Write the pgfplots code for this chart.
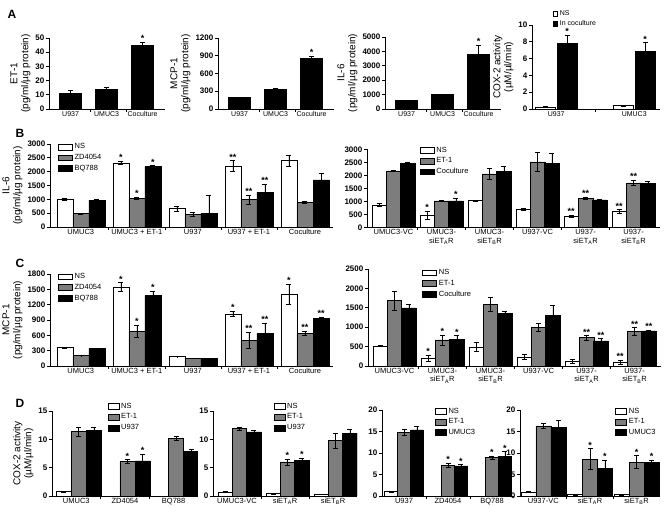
\documentclass[border=0pt]{standalone}
\usepackage{fontspec}
\setmainfont{Liberation Sans}
\usepackage{pgfplots}
\usepackage{pgfplotstable}
\pgfplotsset{compat=1.18}
\definecolor{barg}{RGB}{125,125,125}
\pgfplotsset{
 base/.style={
  scale only axis, anchor=south west, axis lines=left, axis line style={-, line width=0.8pt},
  tick align=outside, major tick length=3pt, tick style={black, line width=0.7pt},
  xmin=0, ymin=0,
  /pgf/number format/assume math mode=true, /pgf/number format/1000 sep={},
  yticklabel style={font=\bfseries\fontsize{8}{9}\selectfont, inner sep=1.5pt},
  xticklabels={},
  extra x tick style={major tick length=0pt, tick label style={font=\fontsize{7.5}{8.5}\selectfont, align=center, inner sep=2pt}},
  ylabel style={align=center, font=\fontsize{10}{11}\selectfont},
  legend style={draw=none, fill=none, font=\fontsize{7.5}{8.5}\selectfont, anchor=north west, inner sep=0pt, row sep=0pt, cells={anchor=west}},
  legend image code/.code={\draw[##1, draw=black, line width=0.5pt] (0pt,-2.8pt) rectangle (14pt,2.8pt);},
 },
 bar/.style={ybar, bar shift=0pt, draw=black, line width=0.5pt,
   /pgfplots/error bars/y dir=both, /pgfplots/error bars/y explicit,
   /pgfplots/error bars/error bar style={black, line width=0.6pt},
   /pgfplots/error bars/error mark options={rotate=90, black, mark size=2.5pt, line width=0.6pt}},
 star/.style={sharp plot, draw=none, mark=none, forget plot, nodes near coords, point meta=explicit symbolic,
   every node near coord/.style={font=\bfseries\fontsize{9}{9}\selectfont, anchor=south, inner sep=0.3pt}},
}
\newcommand\grp[4]{%
  \addplot[fill=#3, bar width=#4, bar] table[x expr=\thisrow{g}+#2, y=y, y error=e]{#1};
  \addplot[star] table[x expr=\thisrow{g}+#2, y expr=\thisrow{y}+\thisrow{e}, meta=s]{#1};
}
% ---------------- data ----------------
\pgfplotstableread{
g y e s
0 11 2 {}
1 14 1 {}
2 45 2 *
}\Aa
\pgfplotstableread{
g y e s
0 190 10 {}
1 330 25 {}
2 850 40 *
}\Ab
\pgfplotstableread{
g y e s
0 580 40 {}
1 1000 40 {}
2 3800 650 *
}\Ac
\pgfplotstableread{
g y e s
0 0.25 0.05 {}
1 0.4 0.05 {}
}\Adns
\pgfplotstableread{
g y e s
0 7.8 1.0 *
1 6.9 1.0 *
}\Adco
% B left
\pgfplotstableread{
g y e s
0 1000 50 {}
1 2320 50 *
2 665 80 {}
3 2200 200 **
4 2400 200 {}
}\BLns
\pgfplotstableread{
g y e s
0 480 20 {}
1 1030 40 *
2 445 70 {}
3 990 160 **
4 880 40 {}
}\BLzd
\pgfplotstableread{
g y e s
0 960 30 {}
1 2180 40 *
2 490 660 {}
3 1260 300 **
4 1700 230 {}
}\BLbq
% B right
\pgfplotstableread{
g y e s
0 870 60 {}
1 470 170 *
2 1030 15 {}
3 700 30 {}
4 440 30 **
5 620 70 **
}\BRns
\pgfplotstableread{
g y e s
0 2180 20 {}
1 1020 30 {}
2 2060 200 {}
3 2520 360 {}
4 1120 40 **
5 1720 110 **
}\BRet
\pgfplotstableread{
g y e s
0 2480 40 {}
1 1020 110 *
2 2150 220 {}
3 2460 400 {}
4 1060 15 {}
5 1700 80 {}
}\BRco
% C left
\pgfplotstableread{
g y e s
0 360 5 {}
1 1550 80 *
2 185 5 {}
3 1020 50 *
4 1400 200 *
}\CLns
\pgfplotstableread{
g y e s
0 205 5 {}
1 680 120 *
2 150 5 {}
3 505 155 **
4 640 45 **
}\CLzd
\pgfplotstableread{
g y e s
0 345 10 {}
1 1375 95 *
2 150 5 {}
3 635 200 **
4 930 20 **
}\CLbq
% C right
\pgfplotstableread{
g y e s
0 515 10 {}
1 200 75 *
2 490 110 {}
3 230 60 {}
4 130 50 {}
5 95 50 **
}\CRns
\pgfplotstableread{
g y e s
0 1685 240 {}
1 670 130 *
2 1590 170 {}
3 1000 95 {}
4 730 55 **
5 885 100 **
}\CRet
\pgfplotstableread{
g y e s
0 1495 90 {}
1 680 100 *
2 1350 50 {}
3 1310 260 {}
4 650 55 **
5 905 25 **
}\CRco
% D
\pgfplotstableread{
g y e s
0 0.75 0.05 {}
1 0 0 {}
2 0 0 {}
}\Dans
\pgfplotstableread{
g y e s
0 11.4 0.8 {}
1 6.1 0.3 *
2 10.2 0.3 {}
}\Daet
\pgfplotstableread{
g y e s
0 11.6 0.6 {}
1 6.2 1.2 *
2 7.9 0.4 {}
}\Dauu
\pgfplotstableread{
g y e s
0 0.7 0.05 {}
1 0.4 0.05 {}
2 0.3 0.05 {}
}\Dbns
\pgfplotstableread{
g y e s
0 11.9 0.3 {}
1 6.0 0.5 *
2 9.8 1.3 {}
}\Dbet
\pgfplotstableread{
g y e s
0 11.3 0.3 {}
1 6.3 0.4 *
2 11.1 0.6 {}
}\Dbuu
\pgfplotstableread{
g y e s
0 1.0 0.1 {}
1 0 0 {}
2 0 0 {}
}\Dcns
\pgfplotstableread{
g y e s
0 14.8 0.8 {}
1 7.2 0.5 *
2 8.9 0.4 *
}\Dcet
\pgfplotstableread{
g y e s
0 15.4 0.7 {}
1 7.0 0.3 *
2 9.2 1.1 *
}\Dcuu
\pgfplotstableread{
g y e s
0 0.9 0.1 {}
1 0.3 0.05 {}
2 0.3 0.05 {}
}\Ddns
\pgfplotstableread{
g y e s
0 16.3 0.5 {}
1 8.6 2.4 *
2 7.9 1.5 *
}\Ddet
\pgfplotstableread{
g y e s
0 16.0 1.5 {}
1 6.5 1.8 *
2 7.8 0.5 *
}\Dduu
\begin{document}
\begin{tikzpicture}
\path[use as bounding box] (0pt,0pt) rectangle (665pt,521pt);
\node[font=\bfseries\fontsize{12}{12}\selectfont] at (12pt,507pt) {A};
\node[font=\bfseries\fontsize{12}{12}\selectfont] at (20pt,388pt) {B};
\node[font=\bfseries\fontsize{12}{12}\selectfont] at (20pt,258pt) {C};
\node[font=\bfseries\fontsize{12}{12}\selectfont] at (20pt,118pt) {D};
% ---------- A ----------
\begin{axis}[base, at={(49pt,412pt)}, width=116pt, height=71pt, xmax=3.22, ymax=50, ytick={0,10,...,50},
  xtick={1.14,2.14}, extra x ticks={0.6,1.6,2.6}, extra x tick labels={U937,UMUC3,Coculture},
  extra x tick style={tick label style={font=\fontsize{7}{8}\selectfont}},
  ylabel={ET-1\\(pg/ml/µg protein)}]
\grp{\Aa}{0.6}{black}{22pt}
\end{axis}
\begin{axis}[base, at={(218pt,412pt)}, width=116pt, height=71pt, xmax=3.22, ymax=1200, ytick={0,300,...,1200},
  xtick={1.14,2.14}, extra x ticks={0.6,1.6,2.6}, extra x tick labels={U937,UMUC3,Coculture},
  extra x tick style={tick label style={font=\fontsize{7}{8}\selectfont}},
  ylabel={MCP-1\\(pg/ml/µg protein)}]
\grp{\Ab}{0.6}{black}{22pt}
\end{axis}
\begin{axis}[base, at={(385pt,412pt)}, width=116pt, height=72pt, xmax=3.22, ymax=5000, ytick={0,1000,...,5000},
  xtick={1.14,2.14}, extra x ticks={0.6,1.6,2.6}, extra x tick labels={U937,UMUC3,Coculture},
  extra x tick style={tick label style={font=\fontsize{7}{8}\selectfont}},
  ylabel={IL-6\\(pg/ml/µg protein)}]
\grp{\Ac}{0.6}{black}{22pt}
\end{axis}
\begin{axis}[base, at={(532pt,412pt)}, width=128pt, height=84pt, xmax=1.64, ymax=10, ytick={0,2,...,10},
  xtick={0.81}, extra x ticks={0.31,1.31}, extra x tick labels={U937,UMUC3},
  extra x tick style={tick label style={font=\fontsize{7}{8}\selectfont}},
  ylabel={COX-2 activity\\(µM/µl/min)},
  legend style={at={(0.16,1.2)}, font=\fontsize{7}{8}\selectfont},
  legend image code/.code={\draw[#1, draw=black, line width=0.4pt] (0pt,-2.4pt) rectangle (4.8pt,2.4pt);}]
\grp{\Adns}{0.17}{white}{20pt}
\grp{\Adco}{0.45}{black}{20pt}
\legend{NS,In coculture}
\end{axis}
% ---------- B ----------
\begin{axis}[base, at={(50pt,294pt)}, width=283pt, height=83pt, xmax=5.05, ymax=3000, ytick={0,500,...,3000},
  xtick={1.05,2.05,3.05,4.05}, extra x ticks={0.55,1.55,2.55,3.55,4.55},
  extra x tick labels={UMUC3,UMUC3 + ET-1,U937,U937 + ET-1,Coculture},
  ylabel={IL-6\\(pg/ml/µg protein)}, legend style={at={(0.028,1.03)}}]
\grp{\BLns}{0.264}{white}{16pt}
\grp{\BLzd}{0.55}{barg}{16pt}
\grp{\BLbq}{0.836}{black}{16pt}
\legend{NS,ZD4054,BQ788}
\end{axis}
\begin{axis}[base, at={(367pt,293.5pt)}, width=293pt, height=78pt, xmax=6.1, ymax=3000, ytick={0,500,...,3000},
  xtick={1.05,2.05,3.05,4.05,5.05}, extra x ticks={0.55,1.55,2.55,3.55,4.55,5.55},
  extra x tick labels={UMUC3-VC,{UMUC3-\\siET\textsubscript{A}R},{UMUC3-\\siET\textsubscript{B}R},U937-VC,{U937-\\siET\textsubscript{A}R},{U937-\\siET\textsubscript{B}R}},
  legend style={at={(0.18,1.06)}}]
\grp{\BRns}{0.25}{white}{14.5pt}
\grp{\BRet}{0.55}{barg}{14.5pt}
\grp{\BRco}{0.85}{black}{14.5pt}
\legend{NS,ET-1,Coculture}
\end{axis}
% ---------- C ----------
\begin{axis}[base, at={(50pt,155pt)}, width=283pt, height=92pt, xmax=5.05, ymax=1800, ytick={0,300,...,1800},
  xtick={1.05,2.05,3.05,4.05}, extra x ticks={0.55,1.55,2.55,3.55,4.55},
  extra x tick labels={UMUC3,UMUC3 + ET-1,U937,U937 + ET-1,Coculture},
  ylabel={MCP-1\\(pg/ml/µg protein)}, legend style={at={(0.028,1.03)}}]
\grp{\CLns}{0.264}{white}{16pt}
\grp{\CLzd}{0.55}{barg}{16pt}
\grp{\CLbq}{0.836}{black}{16pt}
\legend{NS,ZD4054,BQ788}
\end{axis}
\begin{axis}[base, at={(368pt,155pt)}, width=293pt, height=97pt, xmax=6.1, ymax=2500, ytick={0,500,...,2500},
  xtick={1.05,2.05,3.05,4.05,5.05}, extra x ticks={0.55,1.55,2.55,3.55,4.55,5.55},
  extra x tick labels={UMUC3-VC,{UMUC3-\\siET\textsubscript{A}R},{UMUC3-\\siET\textsubscript{B}R},U937-VC,{U937-\\siET\textsubscript{A}R},{U937-\\siET\textsubscript{B}R}},
  legend style={at={(0.185,1.02)}}]
\grp{\CRns}{0.25}{white}{14.5pt}
\grp{\CRet}{0.55}{barg}{14.5pt}
\grp{\CRco}{0.85}{black}{14.5pt}
\legend{NS,ET-1,Coculture}
\end{axis}
% ---------- D ----------
\begin{axis}[base, at={(52pt,25pt)}, width=146pt, height=85pt, xmax=3, ymax=15, ytick={0,5,10,15},
  xtick={1,2}, extra x ticks={0.5,1.5,2.5}, extra x tick labels={UMUC3,ZD4054,BQ788},
  ylabel={COX-2 activity\\(µM/µl/min)}, legend style={at={(0.38,1.12)}},
  legend image code/.code={\draw[#1, draw=black, line width=0.5pt] (0pt,-3pt) rectangle (11pt,3pt);}]
\grp{\Dans}{0.24}{white}{15pt}
\grp{\Daet}{0.55}{barg}{15pt}
\grp{\Dauu}{0.86}{black}{15pt}
\legend{NS,ET-1,U937}
\end{axis}
\begin{axis}[base, at={(213pt,25pt)}, width=144pt, height=85pt, xmax=3, ymax=15, ytick={0,5,10,15},
  xtick={1,2}, extra x ticks={0.5,1.5,2.5}, extra x tick labels={UMUC3-VC,siET\textsubscript{A}R,siET\textsubscript{B}R},
  legend style={at={(0.42,1.12)}},
  legend image code/.code={\draw[#1, draw=black, line width=0.5pt] (0pt,-3pt) rectangle (11pt,3pt);}]
\grp{\Dbns}{0.25}{white}{14.5pt}
\grp{\Dbet}{0.55}{barg}{14.5pt}
\grp{\Dbuu}{0.85}{black}{14.5pt}
\legend{NS,ET-1,U937}
\end{axis}
\begin{axis}[base, at={(382pt,25pt)}, width=132pt, height=86pt, xmax=3, ymax=20, ytick={0,5,...,20},
  xtick={1,2}, extra x ticks={0.5,1.5,2.5}, extra x tick labels={U937,ZD4054,BQ788},
  legend style={at={(0.4,1.05)}},
  legend image code/.code={\draw[#1, draw=black, line width=0.5pt] (0pt,-3pt) rectangle (11pt,3pt);}]
\grp{\Dcns}{0.205}{white}{13pt}
\grp{\Dcet}{0.5}{barg}{13pt}
\grp{\Dcuu}{0.795}{black}{13pt}
\legend{NS,ET-1,UMUC3}
\end{axis}
\begin{axis}[base, at={(520pt,25pt)}, width=140pt, height=86pt, xmax=3, ymax=20, ytick={0,5,...,20},
  xtick={1,2}, extra x ticks={0.5,1.5,2.5}, extra x tick labels={U937-VC,siET\textsubscript{A}R,siET\textsubscript{B}R},
  legend style={at={(0.68,1.05)}},
  legend image code/.code={\draw[#1, draw=black, line width=0.5pt] (0pt,-3pt) rectangle (11pt,3pt);}]
\grp{\Ddns}{0.18}{white}{15pt}
\grp{\Ddet}{0.5}{barg}{15pt}
\grp{\Dduu}{0.82}{black}{15pt}
\legend{NS,ET-1,UMUC3}
\end{axis}
\end{tikzpicture}
\end{document}
